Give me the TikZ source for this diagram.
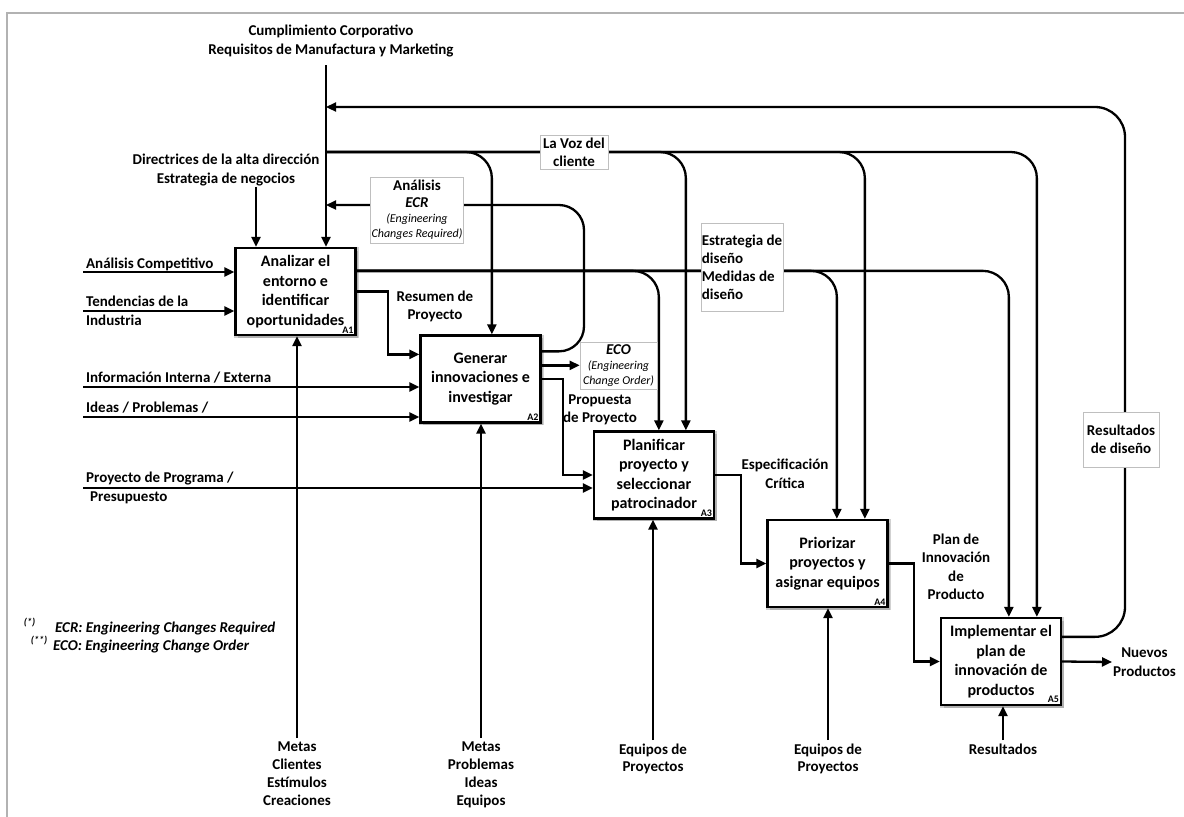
\documentclass[tikz,border=0pt]{standalone}
\usepackage{fontspec}
\setmainfont{Carlito}
\usetikzlibrary{arrows.meta,calc,shadows}
\begin{document}
\begin{tikzpicture}[x=1pt,y=-1pt, line width=2.3pt,
  arr/.style={-{Triangle[length=10pt,width=9pt]}},
  proc/.style={draw, fill=white, line width=2.3pt, minimum width=120pt, minimum height=87pt,
    inner sep=0pt, align=center, font=\fontsize{16}{19.5}\selectfont\bfseries,
    general shadow={shadow xshift=1pt, shadow yshift=-1pt, shadow scale=1.04, opacity=0.18, fill=black},
    drop shadow={shadow xshift=2.5pt, shadow yshift=-2.5pt, opacity=0.4}},
  tag/.style={anchor=south east, inner sep=2pt, font=\fontsize{10}{10}\selectfont\bfseries},
  lbl/.style={inner sep=0pt, align=center, font=\fontsize{15}{18.5}\selectfont\bfseries},
  lbox/.style={draw=black!25, line width=0.6pt, fill=white, inner sep=1pt, align=center,
    font=\fontsize{15}{18}\selectfont\bfseries},
  fn/.style={anchor=base west, inner sep=0pt, font=\fontsize{15}{18}\selectfont\bfseries\itshape},
]
\useasboundingbox (0,0) rectangle (1184,817);
\fill[white] (0,0) rectangle (1184,817);
% page frame
\draw[black!30, line width=2pt] (7,817) -- (7,13) -- (1184,13);

% ---- activity boxes ----
\node[proc] (A1) at (295.5,291.5) {Analizar el\\entorno e\\identificar\\oportunidades};
\node[tag] (A1t) at (A1.south east) {A1};
\node[proc] (A2) at (480.5,379) {Generar\\innovaciones e\\investigar};
\node[tag] (A2t) at (A2.south east) {A2};
\node[proc] (A3) at (654,475) {Planificar\\proyecto y\\seleccionar\\patrocinador};
\node[tag] (A3t) at (A3.south east) {A3};
\node[proc] (A4) at (827.5,563.5) {Priorizar\\proyectos y\\asignar equipos};
\node[tag] (A4t) at (A4.south east) {A4};
\node[proc] (A5) at (1001,661.5) {Implementar el\\plan de\\innovación de\\productos};
\node[tag] (A5t) at (A5.south east) {A5};

% control entry points on the box tops
\coordinate (A2c1) at ($(A2.north west)+(72.5,0)$);
\coordinate (A3c1) at ($(A3.north west)+(66,0)$);
\coordinate (A3c2) at ($(A3.north west)+(93,0)$);
\coordinate (A4c1) at ($(A4.north west)+(70.5,0)$);
\coordinate (A4c2) at ($(A4.north west)+(98.5,0)$);
\coordinate (A5c1) at ($(A5.north west)+(69,0)$);
\coordinate (A5c2) at ($(A5.north west)+(97,0)$);

% ---- top controls ----
\node[lbl] (cump) at (331,41) {Cumplimiento Corporativo\\Requisitos de Manufactura y Marketing};
\coordinate (ctop) at (326,65);
\coordinate (fbin) at (326,107);
\coordinate (vozin) at (326,152);
\coordinate (ecrin) at (326,205);
\draw[arr] (ctop) -- (A1.north -| ctop);

\node[lbl] (dir) at (226,170) {Directrices de la alta dirección\\Estrategia de negocios};
\coordinate (dirx) at (256,0);
\draw[arr] (dir.south -| dirx) -- (A1.north -| dirx);

% voice of the customer bus
\draw[arr, rounded corners=26] (vozin) -| (A2c1);
\draw[arr, rounded corners=26] (vozin) -| (A3c2);
\draw[arr, rounded corners=26] (vozin) -| (A4c2);
\draw[arr, rounded corners=26] (vozin) -| (A5c2);

% design strategy bus from A1
\coordinate (A1o) at ($(A1.north east)+(0,24)$);
\draw[arr, rounded corners=26] (A1o) -| (A3c1);
\draw[arr, rounded corners=26] (A1o) -| (A4c1);
\draw[arr, rounded corners=26] (A1o) -| (A5c1);

% ECR loop from A2 back to the control line
\coordinate (ecrbend) at (584,205);
\draw[arr, rounded corners=25] ($(A2.north east)+(0,17)$) -| (ecrbend) -- (ecrin);

% design results feedback from A5
\coordinate (fbbend) at (1125,107);
\draw[arr, rounded corners=30] ($(A5.north east)+(0,20)$) -| (fbbend) -- (fbin);

% ---- inputs ----
\coordinate (in1) at (83,272);
\coordinate (in2) at (83,311);
\coordinate (in3) at (83,387);
\coordinate (in4) at (83,417);
\coordinate (in5) at (83,488);
\node[lbl, anchor=base west] (t1) at (85,268) {Análisis Competitivo};
\node[lbl, anchor=west, align=left] (t2) at (85,311) {Tendencias de la\\Industria};
\node[lbl, anchor=base west] (t3) at (85,382) {Información Interna / Externa};
\node[lbl, anchor=base west] (t4) at (85,412) {Ideas / Problemas /};
\node[lbl, anchor=west, align=left] (t5) at (85,488) {Proyecto de Programa /\\\hspace*{4pt}Presupuesto};
\draw[arr] (in1) -- (in1 -| A1.west);
\draw[arr] (in2) -- (in2 -| A1.west);
\draw[arr] (in3) -- (in3 -| A2.west);
\draw[arr] (in4) -- (in4 -| A2.west);
\draw[arr] (in5) -- (in5 -| A3.west);

% ---- flow between activities ----
\coordinate (A2i1) at ($(A2.north west)+(0,20)$);
\draw[arr] (A1.east) -| ($(A1.east)!.5!(A2i1)$) |- (A2i1);
\draw[arr] (A2.east) -| ($(A2.east)!.42!(A3.west)$) |- (A3.west);
\draw[arr] (A3.east) -| ($(A3.east)!.5!(A4.west)$) |- (A4.west);
\draw[arr] (A4.east) -| ($(A4.east)!.5!(A5.west)$) |- (A5.west);

% ECO output
\node[lbox, minimum width=77pt, minimum height=47pt, font=\fontsize{12}{15}\selectfont\itshape] (eco) at (618.5,365.5)
  {{\fontsize{15}{15}\selectfont\bfseries ECO}\\(Engineering\\Change Order)};
\coordinate (A2eco) at ($(A2.north east)+(0,31)$);
\draw[arr] (A2eco) -- (A2eco -| eco.west);

% new products
\node[lbl, anchor=west] (nuevos) at (1112,662) {Nuevos\\Productos};
\draw[arr] (A5.east) -- (nuevos.west);

% ---- labels on the buses ----
\node[lbox, minimum width=68pt, minimum height=34pt] (voz) at (574,152) {La Voz del\\cliente};
\node[lbox, minimum width=88pt, minimum height=66pt, font=\fontsize{12}{15}\selectfont\itshape] (ecr) at (417,210)
  {{\fontsize{15}{15}\selectfont\bfseries\upshape Análisis}\\[2pt]{\fontsize{15}{15}\selectfont\bfseries ECR}\\(Engineering\\Changes Required)};
\node[lbox, minimum width=82pt, minimum height=88pt, align=left] (estr) at (742,267)
  {Estrategia de\\diseño\\Medidas de\\diseño};
\node[lbox, minimum width=76pt, minimum height=55pt] (resd) at (1121,439.5) {Resultados\\de diseño};

\node[lbl] (resumen) at (435,306.5) {Resumen de\\Proyecto};
\node[lbl] (prop) at (600,410) {Propuesta\\de Proyecto};
\node[lbl] (espec) at (785,474) {Especificación\\Crítica};
\node[lbl] (plan) at (956,567) {Plan de\\Innovación\\de\\Producto};

% ---- mechanisms ----
\node[lbl, anchor=north, inner ysep=3pt, font=\fontsize{15}{18}\selectfont\bfseries] (m1) at (297,738) {Metas\\Clientes\\Estímulos\\Creaciones};
\node[lbl, anchor=north, inner ysep=3pt, font=\fontsize{15}{18}\selectfont\bfseries] (m2) at (481,738) {Metas\\Problemas\\Ideas\\Equipos};
\node[lbl, anchor=north, inner ysep=3pt, font=\fontsize{15}{17}\selectfont\bfseries] (m3) at (653,740) {Equipos de\\Proyectos};
\node[lbl, anchor=north, inner ysep=3pt, font=\fontsize{15}{17}\selectfont\bfseries] (m4) at (828,740) {Equipos de\\Proyectos};
\node[lbl, anchor=north, inner ysep=3pt] (m5) at (1003,740) {Resultados};
\draw[arr] (m1.north) -- (m1.north |- A1.south);
\draw[arr] (m2.north) -- (m2.north |- A2.south);
\draw[arr] (m3.north) -- (m3.north |- A3.south);
\draw[arr] (m4.north) -- (m4.north |- A4.south);
\draw[arr] (m5.north) -- (m5.north |- A5.south);

% ---- footnotes ----
\node[fn] (fn1) at (54,632) {\llap{\raisebox{7pt}{\fontsize{10}{10}\selectfont(*)}\hspace{20pt}}ECR: Engineering Changes Required};
\node[fn] (fn2) at (52,650) {\llap{\raisebox{7pt}{\fontsize{10}{10}\selectfont(**)}\hspace{6pt}}ECO: Engineering Change Order};
\end{tikzpicture}
\end{document}
